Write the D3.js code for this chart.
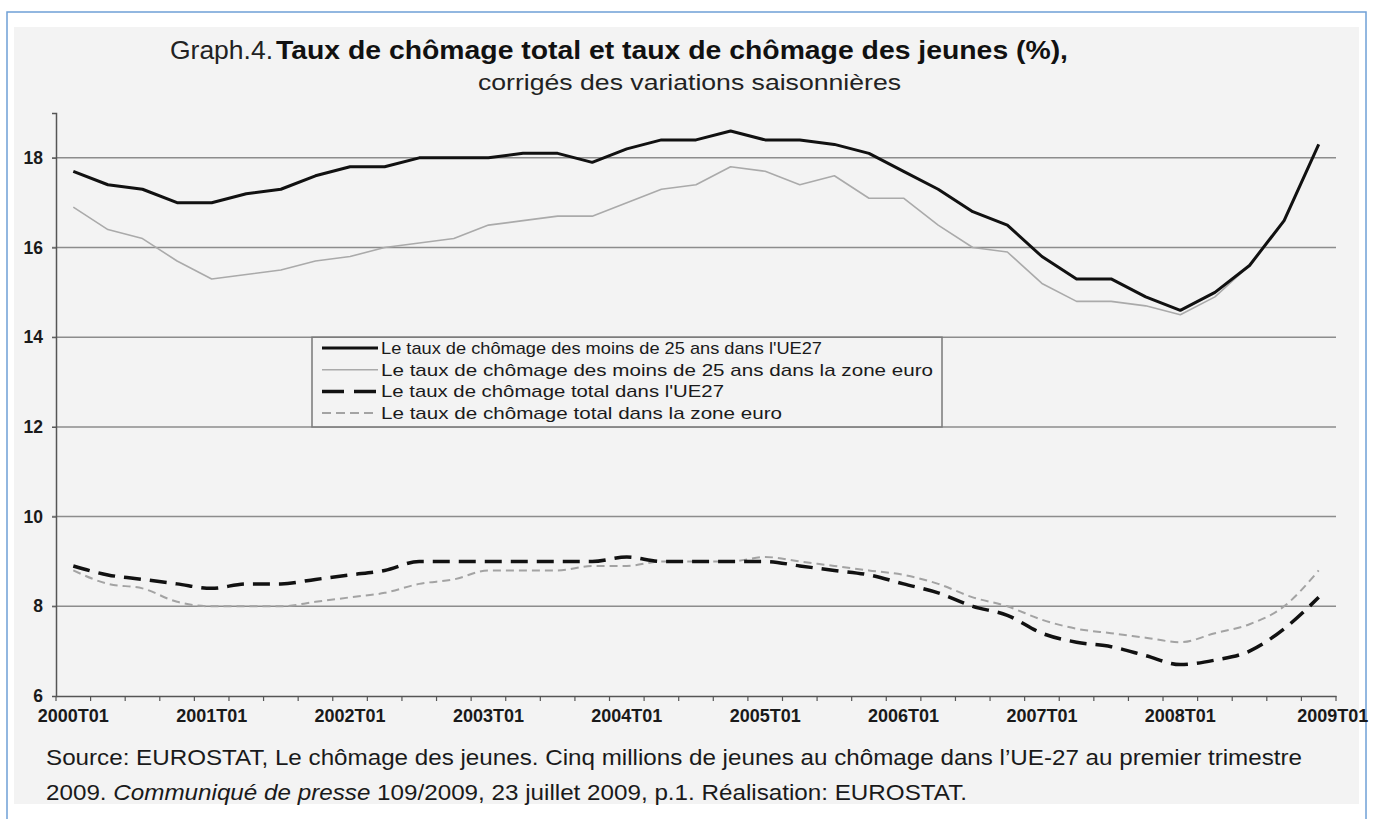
<!DOCTYPE html>
<html>
<head>
<meta charset="utf-8">
<script src="https://cdn.jsdelivr.net/npm/d3@7/dist/d3.min.js"></script>
<style>
  body { margin: 0; background: #fff; }
  svg text { font-family: "Liberation Sans", Arial, sans-serif; }
</style>
</head>
<body>
<div id="chart"></div>
<script>
// quarters 2000T01 .. 2009T01
var quarters = ['2000T01','2000T02','2000T03','2000T04','2001T01','2001T02','2001T03','2001T04',
                '2002T01','2002T02','2002T03','2002T04','2003T01','2003T02','2003T03','2003T04',
                '2004T01','2004T02','2004T03','2004T04','2005T01','2005T02','2005T03','2005T04',
                '2006T01','2006T02','2006T03','2006T04','2007T01','2007T02','2007T03','2007T04',
                '2008T01','2008T02','2008T03','2008T04','2009T01'];
var tickLabels = ['2000T01','2001T01','2002T01','2003T01','2004T01','2005T01','2006T01','2007T01','2008T01','2009T01'];
var yTicks = [6, 8, 10, 12, 14, 16, 18];

var youthUE27 = [17.7,17.4,17.3,17.0,17.0,17.2,17.3,17.6,17.8,17.8,18.0,18.0,18.0,18.1,18.1,17.9,18.2,18.4,18.4,
                 18.6,18.4,18.4,18.3,18.1,17.7,17.3,16.8,16.5,15.8,15.3,15.3,14.9,14.6,15.0,15.6,16.6,18.3];
var youthEuro = [16.9,16.4,16.2,15.7,15.3,15.4,15.5,15.7,15.8,16.0,16.1,16.2,16.5,16.6,16.7,16.7,17.0,17.3,17.4,
                 17.8,17.7,17.4,17.6,17.1,17.1,16.5,16.0,15.9,15.2,14.8,14.8,14.7,14.5,14.9,15.6,16.6,18.3];
var totalUE27 = [8.9,8.7,8.6,8.5,8.4,8.5,8.5,8.6,8.7,8.8,9.0,9.0,9.0,9.0,9.0,9.0,9.1,9.0,9.0,
                 9.0,9.0,8.9,8.8,8.7,8.5,8.3,8.0,7.8,7.4,7.2,7.1,6.9,6.7,6.8,7.0,7.5,8.2];
var totalEuro = [8.8,8.5,8.4,8.1,8.0,8.0,8.0,8.1,8.2,8.3,8.5,8.6,8.8,8.8,8.8,8.9,8.9,9.0,9.0,
                 9.0,9.1,9.0,8.9,8.8,8.7,8.5,8.2,8.0,7.7,7.5,7.4,7.3,7.2,7.4,7.6,8.0,8.8];

var seriesNames = ["Le taux de chômage des moins de 25 ans dans l'UE27",
                   "Le taux de chômage des moins de 25 ans dans la zone euro",
                   "Le taux de chômage total dans l'UE27",
                   "Le taux de chômage total dans la zone euro"];

var W = 1374, H = 819;

var svg = d3.select('#chart').append('svg')
            .attr('width', W).attr('height', H);

// page frame + scanned grey area
svg.append('rect')
  .attr('x', 7).attr('y', 12).attr('width', 1359).attr('height', 830)
  .attr('fill', '#fff').attr('stroke', '#6fa0d6').attr('stroke-width', 1.5);
svg.append('rect')
  .attr('x', 14).attr('y', 27).attr('width', 1345).attr('height', 777)
  .attr('fill', '#f3f3f3');

var x = d3.scaleBand().domain(quarters).range([56, 1336]),
    y = d3.scaleLinear().domain([6, 19]).range([696, 113]);

var cx = function(d, i) { return x(quarters[i]) + x.bandwidth() / 2; };

// gridlines
svg.append('g').selectAll('line').data(yTicks.slice(1))
  .enter().append('line')
    .attr('x1', 52).attr('x2', 1336)
    .attr('y1', function(d) { return y(d); })
    .attr('y2', function(d) { return y(d); })
    .attr('stroke', '#8c8c8c').attr('stroke-width', 1.5);

// y axis
var yAxis = svg.append('g')
    .attr('transform', 'translate(56,0)')
    .call(d3.axisLeft(y).tickValues(yTicks).tickSize(4).tickPadding(9));
yAxis.select('.domain').attr('stroke', '#555').attr('stroke-width', 1.5);
yAxis.selectAll('line').attr('stroke', '#555');
yAxis.selectAll('text')
  .attr('font-size', 17.5).attr('font-weight', 'bold').attr('fill', '#1a1a1a')
  .attr('font-family', '"Liberation Sans", Arial, sans-serif');

// x axis: ticks between categories, labels every 4 quarters
var xAxis = svg.append('g')
    .attr('transform', 'translate(0,' + y(6) + ')')
    .call(d3.axisBottom(x).tickValues(tickLabels).tickSize(0).tickPadding(13));
xAxis.select('.domain').attr('stroke', '#555').attr('stroke-width', 1.5);
xAxis.selectAll('text')
  .attr('font-size', 18).attr('font-weight', 'bold').attr('fill', '#1a1a1a')
  .attr('font-family', '"Liberation Sans", Arial, sans-serif');
xAxis.selectAll('.tick').filter(function(d) { return d === '2009T01'; })
  .select('text').attr('dx', 14);

var edges = quarters.map(function(q) { return x(q); }).concat([x.range()[1]]);
svg.append('g').selectAll('line').data(edges)
  .enter().append('line')
    .attr('x1', function(d) { return d; }).attr('x2', function(d) { return d; })
    .attr('y1', y(6)).attr('y2', y(6) + 5)
    .attr('stroke', '#555').attr('stroke-width', 1.2);

// lines
var straight = d3.line().x(cx).y(function(d) { return y(d); }),
    smooth = d3.line().x(cx).y(function(d) { return y(d); }).curve(d3.curveMonotoneX);

var styles = [
  { data: youthUE27, gen: straight, color: '#111', width: 3, dash: null },
  { data: youthEuro, gen: straight, color: '#aaa', width: 1.6, dash: null },
  { data: totalUE27, gen: smooth, color: '#111', width: 3.5, dash: '17,9' },
  { data: totalEuro, gen: smooth, color: '#a3a3a3', width: 2, dash: '8,5' }
];

// draw thin lines first so the black ones sit on top
[3, 1, 2, 0].forEach(function(k) {
  var s = styles[k];
  svg.append('path')
    .attr('d', s.gen(s.data))
    .attr('fill', 'none')
    .attr('stroke', s.color)
    .attr('stroke-width', s.width)
    .attr('stroke-dasharray', s.dash)
    .attr('stroke-linejoin', 'round');
});

// legend
var legend = svg.append('g');
legend.append('rect')
  .attr('x', 312).attr('y', y(14)).attr('width', 630).attr('height', y(12) - y(14))
  .attr('fill', '#f3f3f3').attr('stroke', '#7a7a7a').attr('stroke-width', 1.5);
var textLens = [441, 552, 343, 401];
styles.forEach(function(s, i) {
  var ly = 348 + i * 21.7;
  legend.append('line')
    .attr('x1', 322).attr('x2', 378).attr('y1', ly).attr('y2', ly)
    .attr('stroke', s.color)
    .attr('stroke-width', s.width)
    .attr('stroke-dasharray', s.dash === null ? null : (i === 2 ? '22,10' : '9,5'));
  legend.append('text')
    .attr('x', 381).attr('y', ly + 6)
    .attr('font-size', 17).attr('fill', '#1a1a1a')
    .attr('textLength', textLens[i]).attr('lengthAdjust', 'spacingAndGlyphs')
    .text(seriesNames[i]);
});

// titles
svg.append('text')
  .attr('x', 170).attr('y', 59)
  .attr('font-family', '"Open Sans", sans-serif').attr('font-size', 26).attr('fill', '#222')
  .attr('textLength', 103).attr('lengthAdjust', 'spacingAndGlyphs')
  .text('Graph.4.');
svg.append('text')
  .attr('x', 276).attr('y', 59)
  .attr('font-size', 26).attr('font-weight', 'bold').attr('fill', '#111')
  .attr('textLength', 792).attr('lengthAdjust', 'spacingAndGlyphs')
  .text('Taux de chômage total et taux de chômage des jeunes (%),');
svg.append('text')
  .attr('x', 478).attr('y', 90)
  .attr('font-size', 22).attr('fill', '#222')
  .attr('textLength', 423).attr('lengthAdjust', 'spacingAndGlyphs')
  .text('corrigés des variations saisonnières');

// source note
var src = svg.append('g')
  .attr('font-family', '"Open Sans", sans-serif').attr('font-size', 22).attr('fill', '#1a1a1a');
src.append('text')
  .attr('x', 46).attr('y', 765)
  .attr('textLength', 1256).attr('lengthAdjust', 'spacingAndGlyphs')
  .text('Source: EUROSTAT, Le chômage des jeunes. Cinq millions de jeunes au chômage dans l’UE-27 au premier trimestre');
var src2 = src.append('text')
  .attr('x', 46).attr('y', 800)
  .attr('textLength', 921).attr('lengthAdjust', 'spacingAndGlyphs');
src2.append('tspan').text('2009. ');
src2.append('tspan').attr('font-style', 'italic').text('Communiqué de presse');
src2.append('tspan').text(' 109/2009, 23 juillet 2009, p.1. Réalisation: EUROSTAT.');
</script>
</body>
</html>
